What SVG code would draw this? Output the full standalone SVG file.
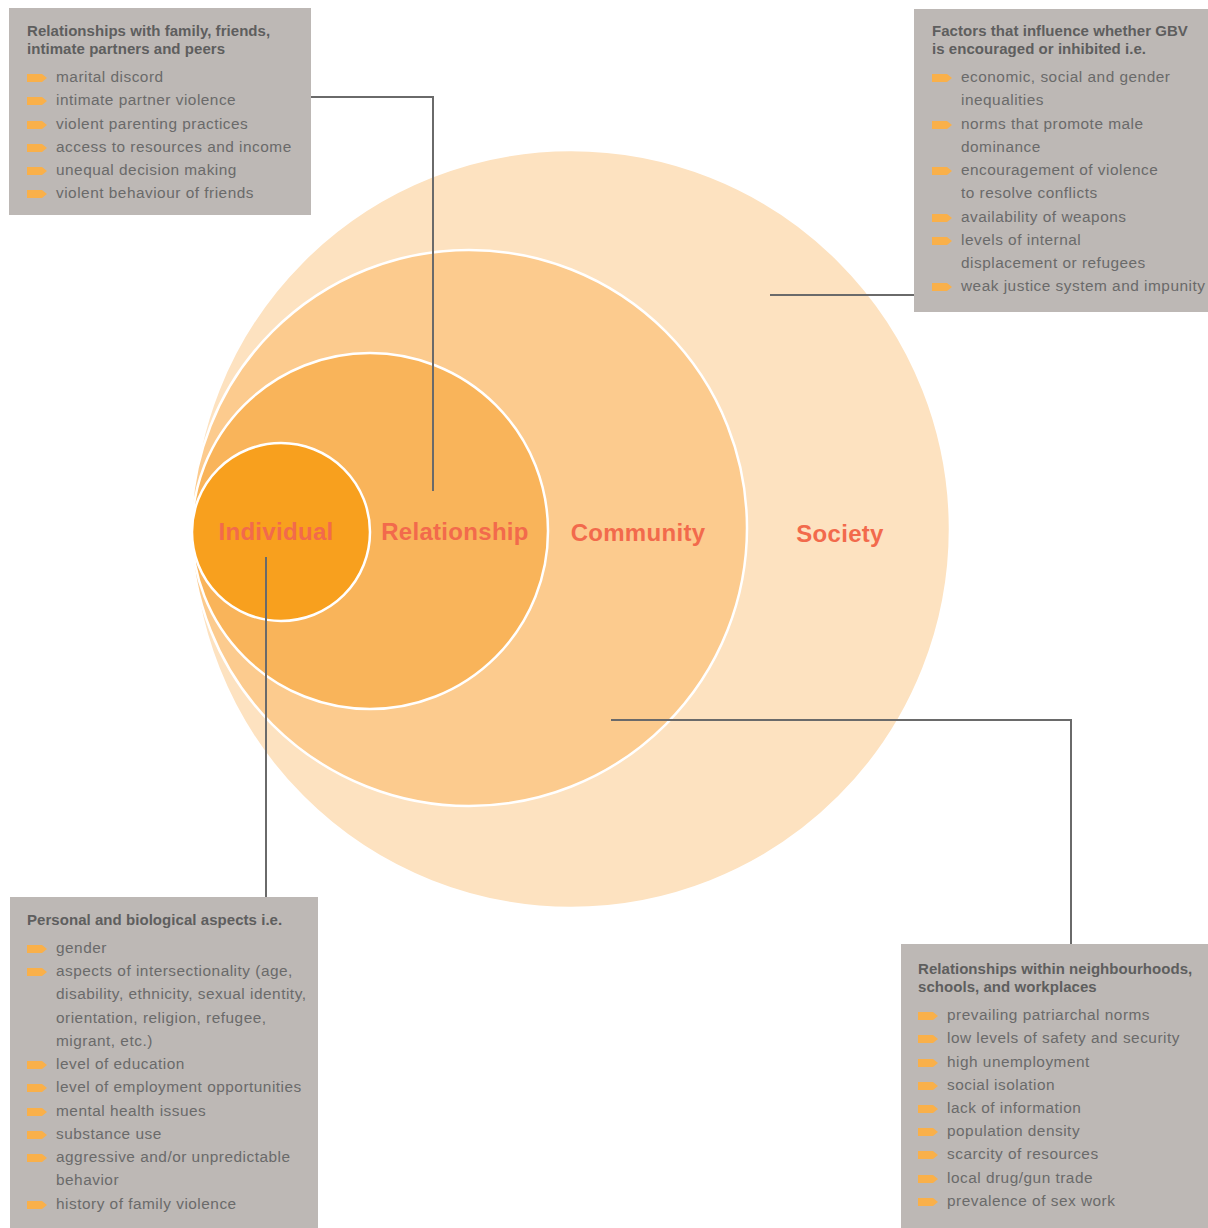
<svg xmlns="http://www.w3.org/2000/svg" width="1208" height="1228" viewBox="0 0 1208 1228">
<defs>
<style>
.box{fill:#BDB8B5}
.h{font-family:"Liberation Sans",Arial,sans-serif;font-weight:bold;font-size:15px;fill:#5E5E5E;letter-spacing:0.05px}
.t{font-family:"Liberation Sans",Arial,sans-serif;font-size:15.4px;fill:#6A6A6A;letter-spacing:0.5px}
.lbl{font-family:"Liberation Sans",Arial,sans-serif;font-weight:bold;font-size:24px;fill:#F26A4C;text-anchor:middle;letter-spacing:0.3px}
.ring{stroke:#FFFFFF;stroke-width:2.5}
.con{fill:none;stroke:#6A6A6A;stroke-width:2}
.b{fill:#F9B04A}
</style>
<path id="bul" d="M0,-4 H15 L20,0 L15,4 H0 Z"/>
</defs>
<rect width="1208" height="1228" fill="#FFFFFF"/>
<g id="circles">
<g id="society"><circle class="ring" cx="571" cy="529" r="379" fill="#FDE2C0"/><text class="lbl" x="840" y="542">Society</text></g>
<g id="community"><circle class="ring" cx="469" cy="528" r="278" fill="#FCCB8E"/><text class="lbl" x="638" y="541">Community</text></g>
<g id="relationship"><circle class="ring" cx="370" cy="531" r="178" fill="#F9B45A"/><text class="lbl" x="455" y="540">Relationship</text></g>
<g id="individual"><circle class="ring" cx="281" cy="532" r="89" fill="#F8A01E"/><text class="lbl" x="276" y="540">Individual</text></g>
</g>
<g id="connectors">
<polyline class="con" points="311,97 433,97 433,491"/>
<line class="con" x1="770" y1="295" x2="914" y2="295"/>
<line class="con" x1="266" y1="557" x2="266" y2="897"/>
<polyline class="con" points="611,720 1071,720 1071,944"/>
</g>
<g id="box-relationship">
<rect class="box" x="9" y="8" width="302" height="207"/>
<g transform="translate(0,1)">
<text class="h" x="27" y="35">Relationships with family, friends,</text>
<text class="h" x="27" y="53">intimate partners and peers</text>
<use href="#bul" class="b" x="27" y="77"/><text class="t" x="56" y="81">marital discord</text>
<use href="#bul" class="b" x="27" y="100"/><text class="t" x="56" y="104">intimate partner violence</text>
<use href="#bul" class="b" x="27" y="124"/><text class="t" x="56" y="128">violent parenting practices</text>
<use href="#bul" class="b" x="27" y="147"/><text class="t" x="56" y="151">access to resources and income</text>
<use href="#bul" class="b" x="27" y="170"/><text class="t" x="56" y="174">unequal decision making</text>
<use href="#bul" class="b" x="27" y="193"/><text class="t" x="56" y="197">violent behaviour of friends</text>
</g>
</g>
<g id="box-society">
<rect class="box" x="914" y="9" width="294" height="303"/>
<g transform="translate(0,1)">
<text class="h" x="932" y="35">Factors that influence whether GBV</text>
<text class="h" x="932" y="53">is encouraged or inhibited i.e.</text>
<use href="#bul" class="b" x="932" y="77"/><text class="t" x="961" y="81">economic, social and gender</text>
<text class="t" x="961" y="104">inequalities</text>
<use href="#bul" class="b" x="932" y="124"/><text class="t" x="961" y="128">norms that promote male</text>
<text class="t" x="961" y="151">dominance</text>
<use href="#bul" class="b" x="932" y="170"/><text class="t" x="961" y="174">encouragement of violence</text>
<text class="t" x="961" y="197">to resolve conflicts</text>
<use href="#bul" class="b" x="932" y="217"/><text class="t" x="961" y="221">availability of weapons</text>
<use href="#bul" class="b" x="932" y="240"/><text class="t" x="961" y="244">levels of internal</text>
<text class="t" x="961" y="267">displacement or refugees</text>
<use href="#bul" class="b" x="932" y="286"/><text class="t" x="961" y="290">weak justice system and impunity</text>
</g>
</g>
<g id="box-individual">
<rect class="box" x="10" y="897" width="308" height="331"/>
<g transform="translate(0,1)">
<text class="h" x="27" y="924">Personal and biological aspects i.e.</text>
<use href="#bul" class="b" x="27" y="948"/><text class="t" x="56" y="952">gender</text>
<use href="#bul" class="b" x="27" y="971"/><text class="t" x="56" y="975">aspects of intersectionality (age,</text>
<text class="t" x="56" y="998">disability, ethnicity, sexual identity,</text>
<text class="t" x="56" y="1022">orientation, religion, refugee,</text>
<text class="t" x="56" y="1045">migrant, etc.)</text>
<use href="#bul" class="b" x="27" y="1064"/><text class="t" x="56" y="1068">level of education</text>
<use href="#bul" class="b" x="27" y="1087"/><text class="t" x="56" y="1091">level of employment opportunities</text>
<use href="#bul" class="b" x="27" y="1111"/><text class="t" x="56" y="1115">mental health issues</text>
<use href="#bul" class="b" x="27" y="1134"/><text class="t" x="56" y="1138">substance use</text>
<use href="#bul" class="b" x="27" y="1157"/><text class="t" x="56" y="1161">aggressive and/or unpredictable</text>
<text class="t" x="56" y="1184">behavior</text>
<use href="#bul" class="b" x="27" y="1204"/><text class="t" x="56" y="1208">history of family violence</text>
</g>
</g>
<g id="box-community">
<rect class="box" x="901" y="944" width="307" height="284"/>
<g transform="translate(0,1)">
<text class="h" x="918" y="973">Relationships within neighbourhoods,</text>
<text class="h" x="918" y="991">schools, and workplaces</text>
<use href="#bul" class="b" x="918" y="1015"/><text class="t" x="947" y="1019">prevailing patriarchal norms</text>
<use href="#bul" class="b" x="918" y="1038"/><text class="t" x="947" y="1042">low levels of safety and security</text>
<use href="#bul" class="b" x="918" y="1062"/><text class="t" x="947" y="1066">high unemployment</text>
<use href="#bul" class="b" x="918" y="1085"/><text class="t" x="947" y="1089">social isolation</text>
<use href="#bul" class="b" x="918" y="1108"/><text class="t" x="947" y="1112">lack of information</text>
<use href="#bul" class="b" x="918" y="1131"/><text class="t" x="947" y="1135">population density</text>
<use href="#bul" class="b" x="918" y="1154"/><text class="t" x="947" y="1158">scarcity of resources</text>
<use href="#bul" class="b" x="918" y="1178"/><text class="t" x="947" y="1182">local drug/gun trade</text>
<use href="#bul" class="b" x="918" y="1201"/><text class="t" x="947" y="1205">prevalence of sex work</text>
</g>
</g>
</svg>
